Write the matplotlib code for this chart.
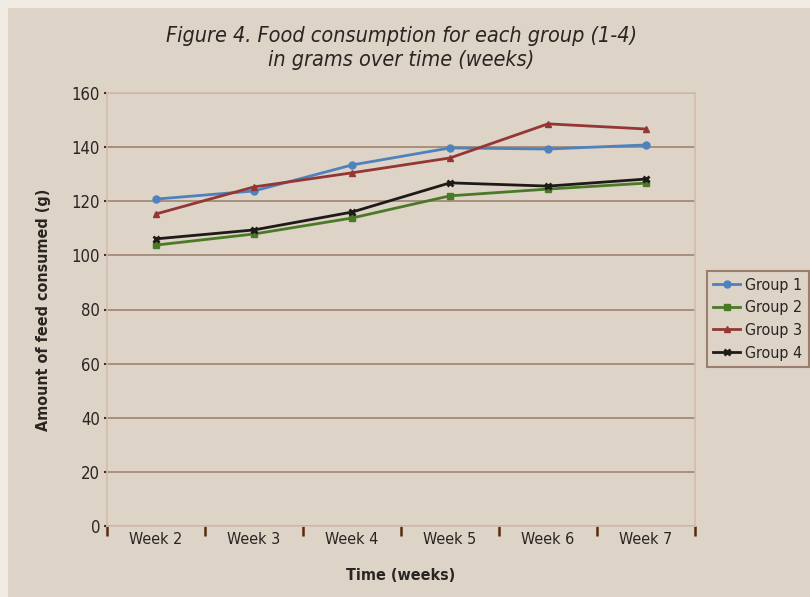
import matplotlib.pyplot as plt
from matplotlib.patches import Rectangle

weeks = ["Week 2", "Week 3", "Week 4", "Week 5", "Week 6", "Week 7"]
group1 = [120.8, 123.8, 133.4, 139.7, 139.3, 140.8]
group2 = [103.8, 107.9, 113.8, 122.0, 124.5, 126.7]
group3 = [115.3, 125.3, 130.5, 136.0, 148.6, 146.7]
group4 = [106.1, 109.4, 116.0, 126.8, 125.6, 128.2]
y_ticks = [0, 20, 40, 60, 80, 100, 120, 140, 160]

plt.rcParams["font.family"] = ["DejaVu Sans"]
plt.rcParams["font.stretch"] = "condensed"

panel = "#ddd3c7"
txt = "#2a2522"
fig = plt.figure(figsize=(8.1, 5.97), dpi=100)
fig.patch.set_facecolor("#f0ece4")
fig.patches.append(Rectangle((8 / 810, 0), 1, 1 - 8 / 597, transform=fig.transFigure,
                             facecolor=panel, edgecolor="none", zorder=-5))

ax = fig.add_axes([107 / 810, 1 - 526 / 597, 588 / 810, 433 / 597])
ax.set_facecolor(panel)

x = [i + 0.5 for i in range(len(weeks))]
ax.plot(x, group1, color="#4f81bd", lw=2, marker="o", ms=5, label="Group 1")
ax.plot(x, group2, color="#4a7a26", lw=2, marker="s", ms=5, label="Group 2")
ax.plot(x, group3, color="#943634", lw=2, marker="^", ms=5, label="Group 3")
ax.plot(x, group4, color="#1e1a18", lw=2, marker="x", ms=5, mew=2, label="Group 4")

ax.set_xlim(0, 6)
ax.set_ylim(0, 160)
ax.set_yticks(y_ticks)
ax.yaxis.grid(True, color="#a48a78", lw=1.3)
ax.set_axisbelow(True)
for s in ax.spines.values():
    s.set_color("#d4bcae")
    s.set_linewidth(1.2)

ax.set_xticks(range(7))
ax.set_xticklabels([])
ax.set_xticks(x, minor=True)
ax.set_xticklabels(weeks, minor=True, fontsize=11.5, color=txt)
ax.tick_params(axis="x", which="major", direction="out", length=7, width=1.8, color="#5a2a10")
ax.tick_params(axis="x", which="minor", length=0, pad=4)
ax.tick_params(axis="y", direction="out", length=2, width=1.5, color="#5a2a10",
               labelsize=12, labelcolor=txt, pad=3)

ax.set_xlabel("Time (weeks)", fontsize=11.5, fontweight="bold", color=txt)
ax.set_ylabel("Amount of feed consumed (g)", fontsize=11.5, fontweight="bold", color=txt)
ax.xaxis.set_label_coords(0.5, -0.097)
ax.yaxis.set_label_coords(-0.096, 0.5)

fig.text(401 / 810, 1 - 48 / 597, "Figure 4. Food consumption for each group (1-4)\nin grams over time (weeks)",
         ha="center", va="center", fontsize=15.5, style="italic", color=txt,
         linespacing=1.25)

leg = ax.legend(loc="center left", bbox_to_anchor=(1.02, 0.478), fontsize=11.5,
                frameon=True, fancybox=False, handlelength=1.7, handletextpad=0.3,
                borderpad=0.4, labelspacing=0.48, borderaxespad=0)
leg.get_frame().set_facecolor(panel)
leg.get_frame().set_edgecolor("#8b6a55")
leg.get_frame().set_linewidth(1.5)
for t in leg.get_texts():
    t.set_color(txt)

fig.savefig("out.png", dpi=100, facecolor=fig.get_facecolor())
